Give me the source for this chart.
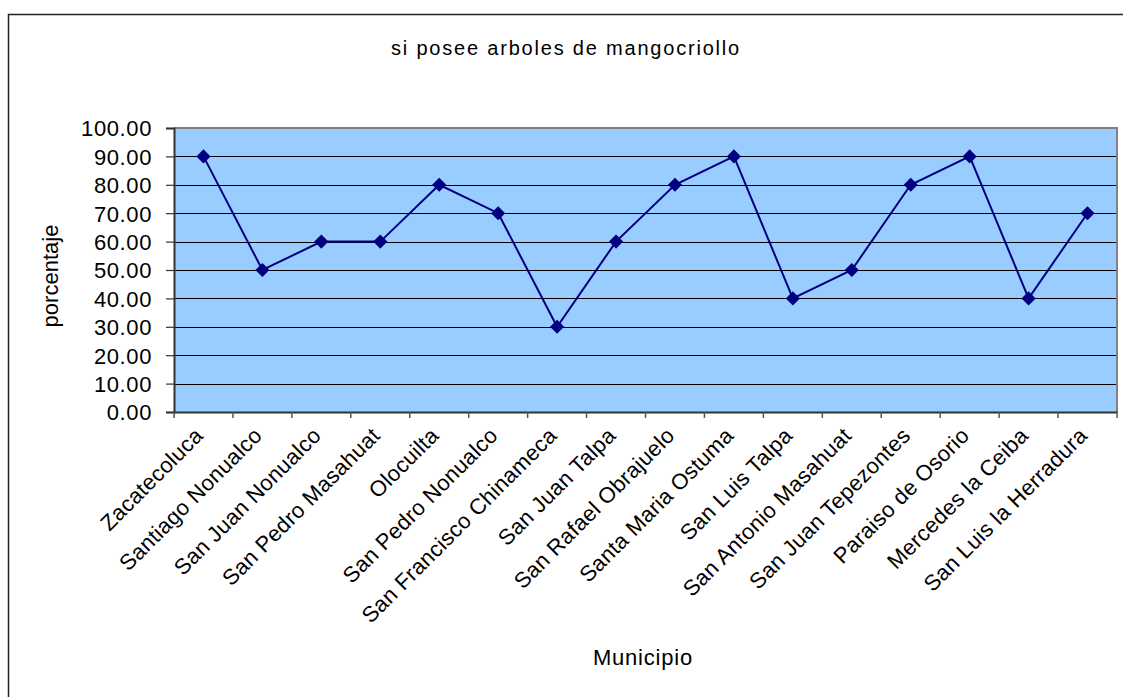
<!DOCTYPE html>
<html>
<head>
<meta charset="utf-8">
<script src="https://cdn.jsdelivr.net/npm/d3@7"></script>
<style>
  html, body { margin: 0; background: #fff; overflow: hidden; }
  svg { display: block; font-family: 'Liberation Sans', Arial, sans-serif; }
  .axis-text { fill: #000; }
</style>
</head>
<body>
<div class="chart"></div>
<script>
/* Chart data
--------------------------------------------------- */
const municipios = [
  'Zacatecoluca', 'Santiago Nonualco', 'San Juan Nonualco', 'San Pedro Masahuat',
  'Olocuilta', 'San Pedro Nonualco', 'San Francisco Chinameca', 'San Juan Talpa',
  'San Rafael Obrajuelo', 'Santa Maria Ostuma', 'San Luis Talpa', 'San Antonio Masahuat',
  'San Juan Tepezontes', 'Paraiso de Osorio', 'Mercedes la Ceiba', 'San Luis la Herradura',
];
const porcentaje = [90, 50, 60, 60, 80, 70, 30, 60, 80, 90, 40, 50, 80, 90, 40, 70];
const yTicks = [0, 10, 20, 30, 40, 50, 60, 70, 80, 90, 100];

const chartTitle = 'si posee arboles de mangocriollo';
const xTitle = 'Municipio';
const yTitle = 'porcentaje';

/* Draw the chart
--------------------------------------------------- */
function drawChart() {
  const width = 1123;
  const height = 697;
  const plot = { left: 174, right: 1117, top: 128, bottom: 412 };

  const svg = d3
    .select('.chart')
    .append('svg')
    .attr('width', width)
    .attr('height', height);

  // outer chart border: only the left and top edges fall inside the picture
  svg
    .append('path')
    .attr('d', `M8.5,${height}V14.5H${width}`)
    .attr('fill', 'none')
    .attr('stroke', '#222')
    .attr('stroke-width', 1.5);

  const x = d3
    .scaleBand()
    .domain(municipios)
    .range([plot.left, plot.right]);

  const y = d3
    .scaleLinear()
    .domain([0, 100])
    .range([plot.bottom, plot.top]);

  // plot area background
  svg
    .append('rect')
    .attr('x', plot.left)
    .attr('y', plot.top)
    .attr('width', plot.right - plot.left)
    .attr('height', plot.bottom - plot.top)
    .attr('fill', '#99ccff');

  // gridlines
  svg
    .append('g')
    .selectAll('line')
    .data(yTicks.filter(t => t > 0 && t < 100))
    .enter()
    .append('line')
    .attr('x1', plot.left)
    .attr('x2', plot.right)
    .attr('y1', d => Math.round(y(d)) + 0.5)
    .attr('y2', d => Math.round(y(d)) + 0.5)
    .attr('stroke', '#000')
    .attr('stroke-width', 1.2);

  // top and right border of plot area
  svg
    .append('path')
    .attr('d', `M${plot.left},${plot.top}H${plot.right}V${plot.bottom}`)
    .attr('fill', 'none')
    .attr('stroke', '#808080')
    .attr('stroke-width', 2);

  // y axis
  const yAxis = svg
    .append('g')
    .attr('transform', `translate(${plot.left},0)`)
    .call(
      d3
        .axisLeft(y)
        .tickValues(yTicks)
        .tickSize(8)
        .tickPadding(14)
        .tickFormat(d3.format('.2f')),
    );
  yAxis.select('.domain').attr('stroke', '#333').attr('stroke-width', 2);
  yAxis.selectAll('.tick line').attr('stroke', '#333').attr('stroke-width', 1.2);
  yAxis
    .selectAll('.tick text')
    .attr('class', 'axis-text')
    .style('font-size', '22px')
    .style('letter-spacing', '0.6px')
    .attr('dy', '0.36em');

  // x axis
  const xAxis = svg
    .append('g')
    .attr('transform', `translate(0,${plot.bottom})`)
    .call(
      d3
        .axisBottom(x)
        .tickSize(0)
        .tickFormat(''),
    );
  xAxis.select('.domain').attr('stroke', '#333').attr('stroke-width', 2);

  // tick marks on the category boundaries
  const boundaries = municipios.map(m => x(m)).concat([plot.right]);
  svg
    .append('g')
    .selectAll('line')
    .data(boundaries)
    .enter()
    .append('line')
    .attr('x1', d => d)
    .attr('x2', d => d)
    .attr('y1', plot.bottom)
    .attr('y2', plot.bottom + 6)
    .attr('stroke', '#555')
    .attr('stroke-width', 1.5);

  // rotated category labels
  svg
    .append('g')
    .selectAll('text')
    .data(municipios)
    .enter()
    .append('text')
    .attr('class', 'axis-text')
    .attr('transform', d => `translate(${x(d) + x.bandwidth() / 2 + 1},437) rotate(-45)`)
    .attr('text-anchor', 'end')
    .style('font-size', '22px')
    .style('letter-spacing', '0.3px')
    .text(d => d);

  // line and markers
  const valueline = d3
    .line()
    .x((d, i) => x(municipios[i]) + x.bandwidth() / 2)
    .y(d => y(d));

  svg
    .append('path')
    .datum(porcentaje)
    .attr('d', valueline)
    .attr('fill', 'none')
    .attr('stroke', '#000080')
    .attr('stroke-width', 2);

  const marker = d3.symbol().type(d3.symbolSquare).size(100);
  svg
    .append('g')
    .selectAll('path')
    .data(porcentaje)
    .enter()
    .append('path')
    .attr('d', marker)
    .attr('transform', (d, i) => `translate(${x(municipios[i]) + x.bandwidth() / 2},${y(d)}) rotate(45)`)
    .attr('fill', '#000080');

  // titles
  svg
    .append('text')
    .attr('x', 566)
    .attr('y', 55)
    .attr('text-anchor', 'middle')
    .style('font-size', '20px')
    .style('letter-spacing', '1.8px')
    .text(chartTitle);

  svg
    .append('text')
    .attr('x', 643)
    .attr('y', 665)
    .attr('text-anchor', 'middle')
    .style('font-size', '22px')
    .style('letter-spacing', '0.8px')
    .text(xTitle);

  svg
    .append('text')
    .attr('transform', 'translate(58,276) rotate(-90)')
    .attr('text-anchor', 'middle')
    .style('font-size', '22px')
    .text(yTitle);
}

drawChart();
</script>
</body>
</html>
